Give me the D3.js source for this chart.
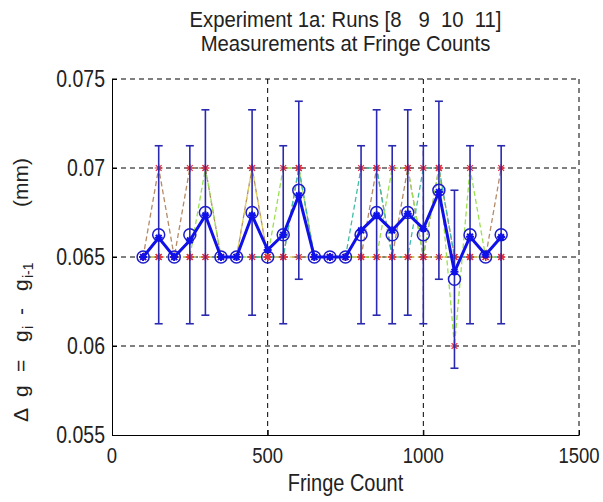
<!DOCTYPE html>
<html><head><meta charset="utf-8">
<script src="https://cdn.jsdelivr.net/npm/d3@7"></script>
<style>
html,body{margin:0;padding:0;background:#fff;}
svg{display:block;}
text{font-family:"Liberation Sans",Arial,sans-serif;fill:#222;}
</style></head>
<body>
<svg id="chart" width="603" height="502"></svg>
<script>
const titleLines = ["Experiment 1a: Runs [8   9  10  11]", "Measurements at Fringe Counts"];
const xLabel = "Fringe Count";
const fringeCounts = [100,150,200,250,300,350,400,450,500,550,600,650,700,750,800,850,900,950,1000,1050,1100,1150,1200,1250];
const runNames = ["8","9","10","11"];
const run8  = [.065,.07,.065,.07,.07,.065,.065,.07,.065,.065,.07,.065,.065,.065,.065,.07,.065,.07,.065,.07,.065,.065,.065,.07];
const run9  = [.065,.065,.065,.065,.07,.065,.065,.065,.065,.07,.07,.065,.065,.065,.065,.065,.07,.07,.065,.07,.06,.07,.065,.065];
const run10 = [.065,.065,.065,.065,.065,.065,.065,.065,.065,.065,.07,.065,.065,.065,.07,.07,.065,.065,.07,.07,.065,.065,.065,.065];
const run11 = [.065,.065,.065,.065,.065,.065,.065,.07,.065,.065,.065,.065,.065,.065,.065,.065,.065,.065,.065,.065,.065,.065,.065,.065];
const meanVals = [.065,.06625,.065,.06625,.0675,.065,.065,.0675,.065,.06625,.06875,.065,.065,.065,.06625,.0675,.06625,.0675,.06625,.06875,.06375,.06625,.065,.06625];
const errHalf  = [0,.005,0,.005,.00577,0,0,.00577,0,.005,.005,0,0,0,.005,.00577,.005,.00577,.005,.005,.005,.005,0,.005];
const trendVals = [.065,.06608,.065,.06593,.06734,.065,.065,.06734,.0654,.06625,.06846,.065,.065,.065,.0665,.06734,.0665,.06743,.06659,.06865,.06417,.06614,.06513,.06612];
const xTicks = [0,500,1000,1500];
const yTicks = [0.055,0.06,0.065,0.07,0.075];
const yTickLabels = ["0.055","0.06","0.065","0.07","0.075"];

const runs = [run8, run9, run10, run11];
const runColors = ["#b48a66", "#9be04e", "#42bda4", "#e0d060"];
const SY = 1.2;

const svg = d3.select("#chart");
const x = d3.scaleLinear().domain([0,1500]).range([112,579]);
const y = d3.scaleLinear().domain([0.055,0.075]).range([435,79]);

// grid
const grid = svg.append("g");
grid.selectAll("line.gx").data(xTicks.slice(1)).join("line")
  .attr("x1", d=>x(d)).attr("x2", d=>x(d)).attr("y1", y(0.055)).attr("y2", y(0.075))
  .attr("stroke","#000").attr("stroke-width",1).attr("stroke-dasharray","5,4");
grid.selectAll("line.gy").data(yTicks.slice(1)).join("line")
  .attr("x1", x(0)).attr("x2", x(1500)).attr("y1", d=>y(d)).attr("y2", d=>y(d))
  .attr("stroke","#000").attr("stroke-width",1).attr("stroke-dasharray","5,4");

// axes (left + bottom)
const xAxis = d3.axisBottom(x).tickValues(xTicks).tickSize(-5).tickSizeOuter(0).tickFormat("");
const yAxis = d3.axisLeft(y).tickValues(yTicks).tickSize(-5).tickSizeOuter(0).tickFormat("");
svg.append("g").attr("transform",`translate(0,${y(0.055)})`).call(xAxis)
  .call(g=>g.selectAll("path,line").attr("stroke","#000"));
svg.append("g").attr("transform",`translate(${x(0)},0)`).call(yAxis)
  .call(g=>g.selectAll("path,line").attr("stroke","#000"));

// tick labels
svg.append("g").selectAll("text").data(xTicks).join("text")
  .attr("transform", d=>`translate(${x(d)},463) scale(1,${SY})`)
  .attr("text-anchor","middle").attr("font-size",18.5).text(d=>d);
svg.append("g").selectAll("text").data(yTicks).join("text")
  .attr("transform", d=>`translate(105,${y(d)}) scale(1,${SY})`)
  .attr("text-anchor","end").attr("dy","0.36em").attr("font-size",19.5)
  .text((d,i)=>yTickLabels[i]);

// x label
svg.append("text").attr("transform",`translate(${(x(0)+x(1500))/2},491) scale(1,${SY})`)
  .attr("text-anchor","middle").attr("font-size",20).text(xLabel);

// title
svg.append("g").selectAll("text").data(titleLines).join("text")
  .attr("transform",(d,i)=>`translate(${(x(0)+x(1500))/2},${27+i*24}) scale(1,1.08)`)
  .attr("text-anchor","middle").attr("font-size",20.3)
  .style("white-space","pre").text(d=>d);

// y label (rotated, with subscripts)
const yl = svg.append("g").attr("transform","translate(28,0) rotate(-90)");
const ylParts = [
  {t:"\u0394", at:422, sub:false},
  {t:"g", at:397, sub:false},
  {t:"=", at:372, sub:false},
  {t:"g", at:342, sub:false},
  {t:"i", at:329, sub:true},
  {t:"-", at:315, sub:false},
  {t:"g", at:291, sub:false},
  {t:"i-1", at:278, sub:true},
  {t:"(mm)", at:207, sub:false}
];
yl.selectAll("text").data(ylParts).join("text")
  .attr("transform", d=>`translate(${-d.at},${d.sub?5:0})`)
  .attr("font-size", d=>d.sub?14:21).text(d=>d.t);

// individual runs: thin dashed lines
const lineGen = (vals) => d3.line().x((d,i)=>x(fringeCounts[i])).y(d=>y(d))(vals);
svg.append("g").selectAll("path").data(runs).join("path")
  .attr("d", d=>lineGen(d)).attr("fill","none")
  .attr("stroke",(d,i)=>runColors[i]).attr("stroke-width",1.3).attr("stroke-dasharray","5,3");

// red asterisks
const starPath = (cx,cy,s) => `M${cx-s},${cy}H${cx+s}M${cx},${cy-s}V${cy+s}M${cx-s*0.72},${cy-s*0.72}L${cx+s*0.72},${cy+s*0.72}M${cx-s*0.72},${cy+s*0.72}L${cx+s*0.72},${cy-s*0.72}`;
const starData = [];
runs.forEach((r,ri)=>r.forEach((v,i)=>starData.push({xv:fringeCounts[i], yv:v})));
svg.append("g").selectAll("path").data(starData).join("path")
  .attr("d", d=>starPath(x(d.xv), y(d.yv), 4)).attr("stroke","#e0303c").attr("stroke-width",1.2).attr("fill","none");

// error bars
const eb = svg.append("g").attr("stroke","#2a2ab0").attr("stroke-width",1.6).attr("fill","none");
const ebData = fringeCounts.map((f,i)=>({f, m:meanVals[i], e:errHalf[i]})).filter(d=>d.e>0);
eb.selectAll("line.v").data(ebData).join("line")
  .attr("x1",d=>x(d.f)).attr("x2",d=>x(d.f)).attr("y1",d=>y(d.m-d.e)).attr("y2",d=>y(d.m+d.e));
eb.selectAll("line.t").data(ebData).join("line")
  .attr("x1",d=>x(d.f)-4).attr("x2",d=>x(d.f)+4).attr("y1",d=>y(d.m+d.e)).attr("y2",d=>y(d.m+d.e));
eb.selectAll("line.b").data(ebData).join("line")
  .attr("x1",d=>x(d.f)-4).attr("x2",d=>x(d.f)+4).attr("y1",d=>y(d.m-d.e)).attr("y2",d=>y(d.m-d.e));

// mean circles
svg.append("g").selectAll("circle").data(meanVals).join("circle")
  .attr("cx",(d,i)=>x(fringeCounts[i])).attr("cy",d=>y(d)).attr("r",6)
  .attr("fill","none").attr("stroke","#1c1ccc").attr("stroke-width",1.5);

// thick trend line with asterisks
svg.append("path").attr("d", lineGen(trendVals)).attr("fill","none")
  .attr("stroke","#1010e8").attr("stroke-width",3).attr("stroke-linejoin","round");
svg.append("g").selectAll("path").data(trendVals).join("path")
  .attr("d",(d,i)=>starPath(x(fringeCounts[i]), y(d), 4)).attr("stroke","#1010e8").attr("stroke-width",2).attr("fill","none");
</script>
</body></html>
